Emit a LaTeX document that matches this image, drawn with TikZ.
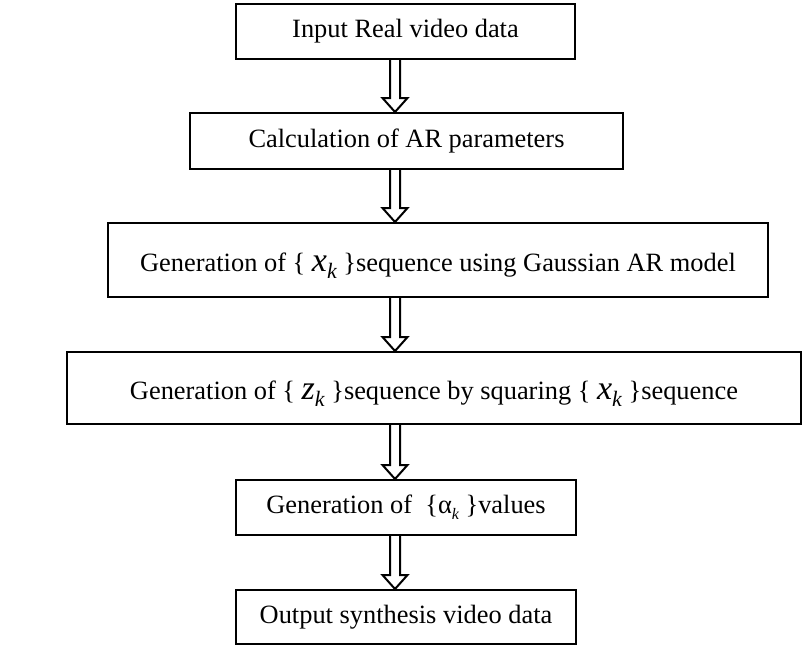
\documentclass[tikz,border=0pt]{standalone}
\usepackage{fontspec}
\setmainfont{Liberation Serif}
\usetikzlibrary{calc}

% italic sequence term with a subscript index
\newcommand\seqterm[2]{{\fontsize{17}{17}\selectfont\itshape #1}\raisebox{-0.6ex}{\fontsize{11}{11}\selectfont\itshape #2}}
\newcommand\greekterm[2]{#1\raisebox{-0.5ex}{\fontsize{8}{8}\selectfont\itshape #2}}

\tikzset{
  stage/.style={draw, line width=1pt, inner sep=0pt, align=center,
    font=\fontsize{13.2}{15}\selectfont},
  widestage/.style={stage, text height=14pt, text depth=3pt},
  hollow/.style={line width=1pt, line join=miter},
}

% open double-line arrow from one stage down to the next
\newcommand\blockarrow[2]{
  \draw[hollow] ($(#1.south -| spine)+(-5,0)$)
    -- ($(#2.north -| spine)+(-5,-14)$) -- ++(-7.5,0)
    -- (#2.north -| spine)
    -- ($(#2.north -| spine)+(12.5,-14)$) -- ++(-7.5,0)
    -- ($(#1.south -| spine)+(5,0)$);
}

\begin{document}
\begin{tikzpicture}[x=0.5pt, y=-0.5pt]
\useasboundingbox (0,0) rectangle (808,645);
\coordinate (spine) at (395,0);

\node[stage, minimum width=169.5pt, minimum height=27.5pt] (input) at (405.5,31.5) {Input Real video data};
\node[stage, minimum width=216.5pt, minimum height=28pt] (arpar) at (406.5,141) {Calculation of AR parameters};
\node[widestage, minimum width=330pt, minimum height=37pt] (xseq) at (438,260)
  {Generation of \{ \seqterm{x}{k} \}sequence using Gaussian AR model};
\node[widestage, minimum width=367pt, minimum height=36pt] (zseq) at (434,388)
  {Generation of \{ \seqterm{z}{k} \}sequence by squaring \{ \seqterm{x}{k} \}sequence};
\node[stage, minimum width=170pt, minimum height=27.5pt] (alpha) at (406,507.5)
  {Generation of~~\{\greekterm{α}{k} \}values};
\node[stage, minimum width=170pt, minimum height=27pt] (output) at (406,617) {Output synthesis video data};

\blockarrow{input}{arpar}
\blockarrow{arpar}{xseq}
\blockarrow{xseq}{zseq}
\blockarrow{zseq}{alpha}
\blockarrow{alpha}{output}
\end{tikzpicture}
\end{document}
